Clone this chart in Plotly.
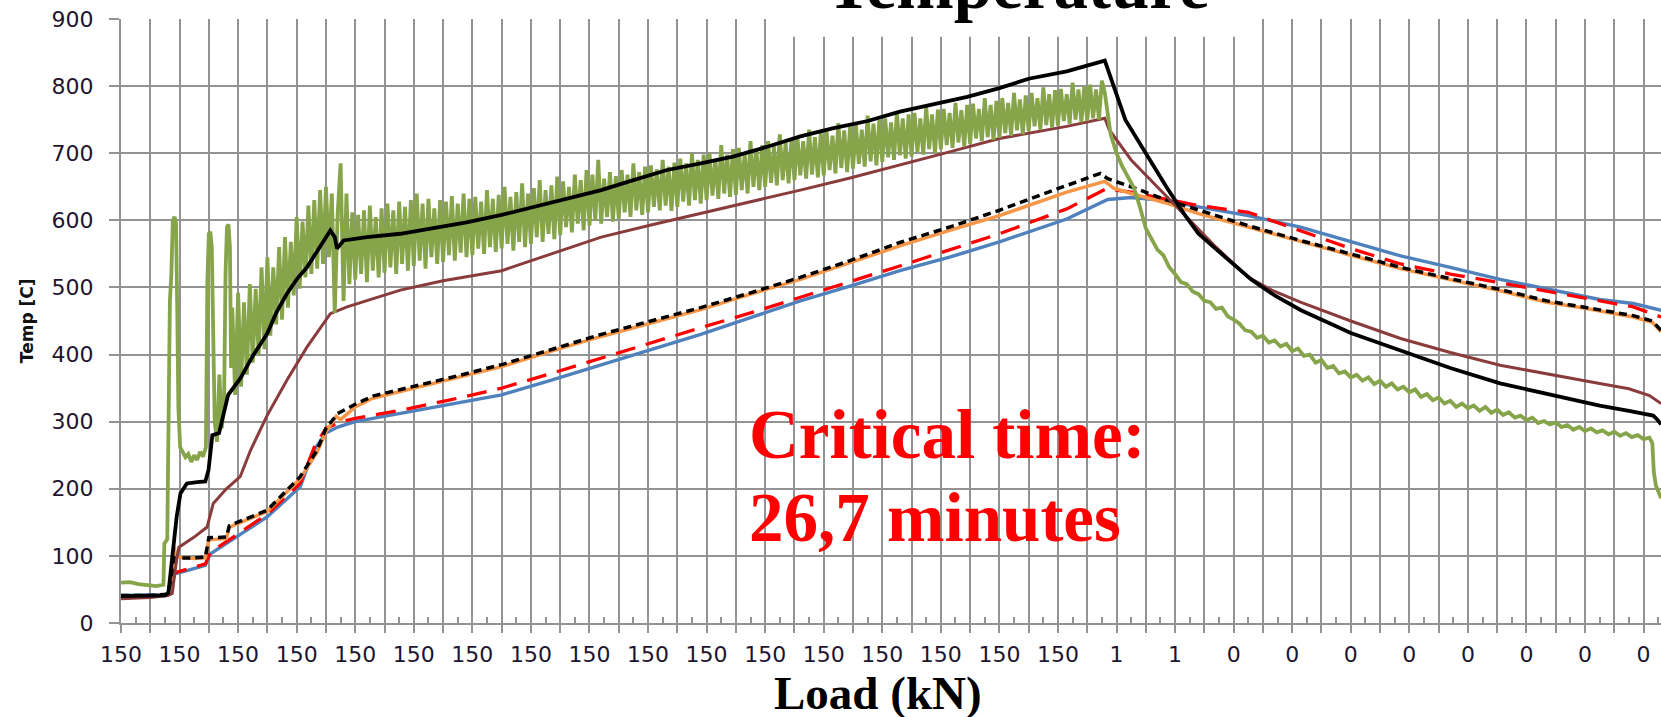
import plotly.graph_objects as go

# ---------------------------------------------------------------
# Category axis: load (kN) recorded at each labelled sample step
# ---------------------------------------------------------------
load_labels = ["150", "150", "150", "150", "150", "150", "150", "150", "150",
               "150", "150", "150", "150", "150", "150", "150", "150",
               "1", "1",
               "0", "0", "0", "0", "0", "0", "0", "0"]

# Temperature readings [C]; x is the sample step along the load axis
black_k = [0, 0.8, 1.5, 1.62, 1.68, 1.8, 1.9, 2.03, 2.25, 2.6, 2.88, 2.99, 3.05, 3.12,
           3.35, 3.45, 3.66, 4.07, 4.5, 4.99, 5.3, 5.67, 6.0, 6.35, 6.8, 7.15, 7.3, 7.38,
           7.6, 8.4, 9.54, 10.6, 11.8, 13.0, 14.1, 15.3, 16.4, 17.5, 18.65, 19.8, 20.9,
           22.1, 23.2, 24.3, 25.5, 26.6, 27.8, 28.9, 30.0, 31.0, 32.3, 33.0, 33.6, 34.3,
           35.0, 35.7, 36.3, 36.8, 37.4, 38.0, 38.6, 39.4, 40.3, 41.2, 42.0, 43.7, 45.4,
           47.1, 48.8, 50.5, 51.5, 52.33, 52.45, 52.6]
black_t = [40, 40, 41, 45, 69, 108, 158, 193, 208, 210, 211, 228, 257, 280,
           283, 300, 340, 364, 398, 431, 462, 491, 512, 530, 560, 585, 575, 558,
           570, 575, 580, 588, 597, 608, 620, 632, 645, 660, 675, 685, 695,
           710, 725, 737, 748, 762, 773, 784, 797, 811, 822, 830, 838, 750,
           700, 650, 610, 580, 557, 535, 512, 488, 466, 448, 432, 406, 380,
           357, 340, 324, 316, 309, 304, 296]

brown_k = [0, 1.0, 1.6, 1.75, 1.9, 1.98, 2.5, 2.94, 3.15, 3.6, 4.07, 4.42, 5.0, 5.67,
           6.35, 7.15, 7.72, 8.5, 9.54, 11.0, 13.0, 14.7, 16.4, 18.1, 19.8, 21.5, 23.2,
           24.9, 26.6, 28.3, 30.0, 32.3, 33.6, 33.75, 34.5, 35.4, 36.3, 37.4, 38.5, 39.3,
           40.28, 42.0, 43.7, 45.4, 47.1, 48.8, 50.5, 51.5, 52.2, 52.6]
brown_t = [36, 38, 41, 44, 95, 113, 128, 143, 178, 200, 218, 257, 310, 362,
           411, 461, 471, 482, 496, 510, 525, 550, 575, 593, 610, 628, 645,
           663, 682, 702, 722, 740, 752, 735, 690, 650, 610, 560, 515, 496,
           478, 450, 424, 403, 384, 370, 357, 349, 339, 327]

blue_k = [0, 1.0, 1.57, 1.7, 1.8, 2.25, 2.88, 3.05, 3.85, 4.99, 6.12, 6.58, 7.0, 7.4,
          8.0, 9.0, 9.55, 11.2, 13.0, 14.7, 16.4, 18.1, 19.8, 21.5, 23.2, 24.9, 26.6,
          28.3, 30.0, 32.3, 33.7, 34.5, 35.6, 36.8, 38.5, 40.28, 42.0, 43.7, 45.4, 47.1,
          48.8, 50.5, 51.65, 52.6]
blue_t = [41, 41, 42, 55, 73, 78, 86, 103, 126, 158, 203, 257, 283, 292,
          300, 308, 312, 325, 340, 362, 385, 407, 430, 455, 480, 502, 525,
          545, 568, 602, 631, 634, 630, 620, 607, 590, 568, 547, 530, 512,
          497, 482, 476, 466]

red_k = [0, 1.0, 1.6, 1.75, 1.85, 2.25, 2.88, 3.05, 3.85, 4.99, 6.12, 6.6, 7.0, 7.5,
         8.0, 9.0, 9.55, 11.2, 13.0, 14.7, 16.4, 18.1, 19.8, 21.5, 23.2, 24.9, 26.6,
         28.3, 30.0, 32.3, 33.65, 34.5, 35.6, 36.8, 38.5, 40.28, 42.0, 43.7, 45.4, 47.1,
         48.8, 50.5, 51.65, 52.6]
red_t = [40, 40, 42, 60, 75, 80, 88, 105, 129, 162, 208, 262, 290, 300,
         305, 312, 317, 332, 350, 372, 395, 418, 440, 462, 485, 508, 532,
         556, 580, 617, 647, 642, 632, 622, 612, 585, 558, 535, 520, 507,
         494, 480, 471, 456]

orange_k = [0, 1.0, 1.6, 1.75, 1.82, 1.88, 2.5, 2.88, 3.0, 3.6, 3.7, 4.99, 6.12, 6.7,
            7.0, 7.35, 7.5, 8.0, 8.6, 9.55, 11.2, 13.0, 14.7, 16.4, 18.1, 19.8, 21.5,
            23.2, 24.9, 26.6, 28.3, 30.0, 32.3, 33.6, 33.9, 34.5, 35.6, 36.8, 38.5, 40.28,
            42.0, 43.7, 45.4, 47.1, 48.7, 50.0, 51.65, 52.3, 52.6]
orange_t = [40, 40, 42, 75, 113, 98, 96, 97, 124, 126, 143, 166, 215, 255,
            285, 308, 303, 322, 335, 345, 362, 382, 405, 427, 447, 467, 490,
            512, 537, 562, 585, 607, 642, 658, 648, 640, 627, 610, 590, 568,
            548, 528, 512, 495, 478, 469, 456, 448, 434]

dotted_k = [0, 1.0, 1.6, 1.72, 1.85, 2.5, 2.88, 3.0, 3.6, 3.7, 4.99, 6.12, 6.7, 7.0,
            7.4, 8.0, 8.6, 9.55, 11.2, 13.0, 14.7, 16.4, 18.1, 19.8, 21.5, 23.2, 24.9,
            26.6, 28.3, 30.0, 32.3, 33.45, 33.7, 34.5, 35.6, 36.8, 38.5, 40.28, 42.0,
            43.7, 45.4, 47.1, 48.7, 49.95, 51.65, 52.3, 52.6]
dotted_t = [41, 41, 43, 70, 97, 97, 98, 127, 128, 145, 168, 218, 258, 290,
            312, 326, 338, 348, 365, 385, 408, 430, 450, 470, 492, 515, 540,
            567, 590, 615, 652, 670, 662, 650, 632, 615, 592, 570, 550,
            530, 513, 497, 480, 471, 458, 450, 436]

# Furnace-gas thermocouple (noisy): start-up, logged band, cooling tail, end
green_start_k = [0, 0.3, 0.6, 0.9, 1.2, 1.45, 1.48, 1.58, 1.63, 1.67, 1.72, 1.77, 1.83,
                 1.88, 1.92, 1.96, 2.02, 2.1, 2.2, 2.3, 2.4, 2.5, 2.6, 2.7, 2.8, 2.9,
                 2.95, 3.0, 3.05, 3.1, 3.15, 3.2, 3.28, 3.36, 3.44, 3.52, 3.57, 3.62,
                 3.67, 3.72, 3.76]
green_start_t = [60, 61, 58, 56, 55, 57, 118, 125, 300, 480, 520, 600, 605,
                 595, 470, 320, 262, 255, 247, 252, 240, 250, 243, 255, 248, 262,
                 510, 580, 583, 560, 450, 300, 270, 370, 290, 330, 520, 590,
                 594, 560, 380]

GREEN_BAND_FROM, GREEN_BAND_STEP = 3.8, 0.1
green_band_t = [
    470, 340,
    492, 352, 478, 370, 505, 388, 498, 400, 530, 408,
    545, 428, 530, 445, 560, 452, 575, 470, 568, 488,
    605, 498, 598, 515, 622, 520, 630, 528, 645, 535,
    650, 545, 640, 462, 610, 685, 480, 640, 505, 612,
    512, 608, 520, 615, 508, 622, 525, 605, 515, 618,
    522, 625, 530, 615, 520, 628, 535, 620, 525, 630,
    532, 640, 540, 625, 528, 632, 545, 618, 535, 630,
    538, 628, 548, 636, 540, 625, 552, 640, 545, 632,
    548, 635, 558, 628, 550, 645, 560, 632, 553, 638,
    558, 650, 565, 635, 555, 642, 568, 655, 560, 640,
    565, 648, 575, 660, 568, 645, 580, 652, 572, 665,
    578, 658, 590, 650, 582, 668, 595, 660, 585, 675,
    592, 668, 600, 690, 595, 662, 605, 672, 598, 666,
    602, 675, 612, 668, 605, 685, 615, 672, 608, 680,
    612, 682, 620, 676, 615, 690, 622, 680, 614, 686,
    620, 692, 628, 685, 622, 700, 630, 690, 625, 698,
    630, 700, 637, 692, 632, 712, 640, 698, 635, 706,
    638, 708, 645, 700, 640, 718, 650, 706, 645, 712,
    650, 718, 656, 710, 652, 728, 660, 716, 655, 722,
    660, 725, 667, 718, 662, 735, 668, 724, 664, 730,
    667, 732, 675, 726, 670, 745, 678, 734, 672, 740,
    677, 742, 684, 735, 680, 756, 688, 744, 682, 750,
    687, 752, 694, 746, 690, 762, 697, 752, 692, 758,
    695, 760, 702, 752, 698, 770, 706, 758, 700, 765,
    706, 766, 712, 760, 708, 775, 716, 764, 710, 772,
    714, 774, 722, 766, 718, 782, 724, 772, 720, 778,
    723, 782, 730, 775, 726, 790, 734, 780, 728, 786,
    733, 790, 740, 782, 735, 798, 742, 788, 738, 794,
    741, 796, 748, 788, 744, 805, 750, 795, 746, 800,
    748, 802, 752, 795, 750, 808, 790,
]

GREEN_TAIL_FROM, GREEN_TAIL_STEP = 33.8, 0.2
green_tail_t = [
    728, 700, 680, 665, 648, 620, 588, 572, 556, 548,
    530, 520, 508, 505, 494, 490, 480, 478, 468, 470,
    457, 452, 446, 436, 434, 425, 428, 418, 421, 412,
    416, 405, 409, 398, 400, 388, 392, 380, 383, 372,
    375, 366, 370, 361, 366, 356, 361, 352, 357, 348,
    352, 344, 348, 337, 341, 332, 336, 327, 331, 322,
    327, 320, 324, 316, 322, 313, 318, 310, 314, 306,
    309, 302, 306, 298, 301, 296, 299, 292, 295, 288,
    292, 286, 290, 284, 287, 281, 285, 279, 283, 277,
    280, 274, 276,
]

green_end_k = [52.3, 52.35, 52.42, 52.6]
green_end_t = [268, 225, 205, 186]

green_k = (green_start_k
           + [round(GREEN_BAND_FROM + GREEN_BAND_STEP * i, 3) for i in range(len(green_band_t))]
           + [round(GREEN_TAIL_FROM + GREEN_TAIL_STEP * i, 3) for i in range(len(green_tail_t))]
           + green_end_k)
green_t = green_start_t + green_band_t + green_tail_t + green_end_t

# ---------------------------------------------------------------
# Figure
# ---------------------------------------------------------------
GRID = "#939393"
TICKFONT = dict(family="DejaVu Sans", size=22, color="#1e1530")

fig = go.Figure()

series = [
    (blue_k, blue_t, dict(color="#4f81bd", width=3.4)),
    (red_k, red_t, dict(color="#ff0000", width=3.3, dash="20px,11px")),
    (orange_k, orange_t, dict(color="#f79646", width=3.5)),
    (dotted_k, dotted_t, dict(color="#000000", width=3.5, dash="8px,5px")),
    (brown_k, brown_t, dict(color="#8a3b3b", width=3.0)),
    (green_k, green_t, dict(color="#86a44a", width=3.8)),
    (black_k, black_t, dict(color="#000000", width=3.8)),
]
for xs, ys, line in series:
    fig.add_trace(go.Scatter(x=xs, y=ys, mode="lines", line=line,
                             hoverinfo="skip", showlegend=False))

# plot area in page pixels
PLOT_L, PLOT_T, PLOT_W, PLOT_H = 121, 19, 1540, 604
GRID_STEP_PX = 29.28


def px(x):
    return (x - PLOT_L) / PLOT_W


def py(y):
    return (PLOT_T + PLOT_H - y) / PLOT_H


n_steps = 2 * (len(load_labels) - 1)
tick_vals = list(range(n_steps + 1))
tick_text = [load_labels[i // 2] if i % 2 == 0 else "" for i in tick_vals]

fig.update_layout(
    width=1661, height=717,
    margin=dict(l=PLOT_L, r=0, t=PLOT_T, b=717 - PLOT_T - PLOT_H, pad=0),
    paper_bgcolor="white", plot_bgcolor="white",
    showlegend=False,
    xaxis=dict(
        range=[0, PLOT_W / GRID_STEP_PX],
        tickmode="array", tickvals=tick_vals, ticktext=tick_text, tickangle=0,
        showgrid=True, gridcolor=GRID, gridwidth=2,
        ticks="outside", ticklen=8, tickwidth=2, tickcolor=GRID,
        showline=True, linecolor=GRID, linewidth=2, zeroline=False,
        tickfont=TICKFONT, ticklabelstandoff=3,
        minor=dict(tickmode="array", tickvals=[v + 0.5 for v in tick_vals],
                   ticks="inside", ticklen=6, tickwidth=2, tickcolor=GRID,
                   showgrid=False),
    ),
    yaxis=dict(
        range=[0, 900], tickmode="array", tickvals=list(range(0, 901, 100)),
        showgrid=True, gridcolor=GRID, gridwidth=2,
        ticks="outside", ticklen=10, tickwidth=2, tickcolor=GRID,
        showline=True, linecolor=GRID, linewidth=2, zeroline=False,
        tickfont=TICKFONT, ticklabelstandoff=11,
    ),
)

# white panel behind the heading
fig.add_shape(type="rect", xref="paper", yref="paper",
              x0=px(780), x1=px(1247), y0=py(36.7), y1=py(-20),
              fillcolor="white", line=dict(width=0), layer="above")

serif_bold = dict(family="Liberation Serif", weight="bold")

fig.add_annotation(text="Temperature", xref="paper", yref="paper",
                   x=px(1017), y=py(24.2), xanchor="center", yanchor="bottom",
                   showarrow=False, borderpad=0,
                   font=dict(**serif_bold, size=69, color="black"))

fig.add_annotation(text="Critical time:", xref="paper", yref="paper",
                   x=px(748), y=py(435), xanchor="left", yanchor="middle",
                   showarrow=False, borderpad=0,
                   font=dict(**serif_bold, size=69, color="#ff0000"))
fig.add_annotation(text="26,7 minutes", xref="paper", yref="paper",
                   x=px(748), y=py(518.4), xanchor="left", yanchor="middle",
                   showarrow=False, borderpad=0,
                   font=dict(**serif_bold, size=69, color="#ff0000"))

fig.add_annotation(text="Load (kN)", xref="paper", yref="paper",
                   x=px(878), y=py(693), xanchor="center", yanchor="middle",
                   showarrow=False, borderpad=0,
                   font=dict(**serif_bold, size=47, color="black"))

fig.add_annotation(text="Temp [C]", xref="paper", yref="paper",
                   x=px(26.7), y=py(320.5), xanchor="center", yanchor="middle",
                   textangle=-90, showarrow=False, borderpad=0,
                   font=dict(family="DejaVu Sans", weight="bold", size=17, color="#111111"))

fig.write_html("out.html")
